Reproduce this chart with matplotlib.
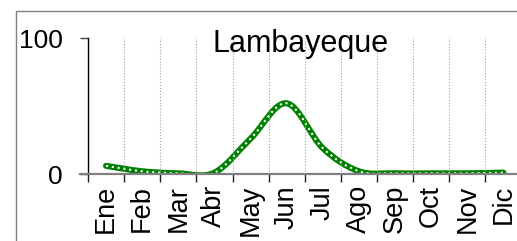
import numpy as np
import matplotlib
matplotlib.use("Agg")
import matplotlib.pyplot as plt
from matplotlib.path import Path
from matplotlib.patches import PathPatch, Rectangle

months = ["Ene", "Feb", "Mar", "Abr", "May", "Jun",
          "Jul", "Ago", "Sep", "Oct", "Nov", "Dic"]
values = [6, 2, 0.5, 1, 26, 52, 19, 2, 0.5, 0.5, 0.5, 1]
title = "Lambayeque"

plt.rcParams["font.family"] = ["Liberation Sans", "DejaVu Sans"]

W, H = 517, 241
fig = plt.figure(figsize=(W / 100, H / 100), dpi=100)

# plot area in pixels (runs past the right edge, like the reference crop)
left, right, top, bottom = 88, 521.5, 38, 174
ax = fig.add_axes([left / W, 1 - bottom / H, (right - left) / W, (bottom - top) / H])

# outer chart border (also cut off on the right and bottom)
fig.patches.append(Rectangle((16 / W, -0.2), 1.2, 1 - 11 / H + 0.2,
                             transform=fig.transFigure, fill=False,
                             edgecolor="#808080", linewidth=1))

x = np.arange(len(months)) + 0.5
y = np.array(values, dtype=float)


def smooth_path(xs, ys):
    # Excel-like smoothed line: Bezier segments with Catmull-Rom control points
    pts = np.column_stack([xs, ys])
    verts = [pts[0]]
    codes = [Path.MOVETO]
    n = len(pts)
    for i in range(n - 1):
        p0 = pts[max(i - 1, 0)]
        p1 = pts[i]
        p2 = pts[i + 1]
        p3 = pts[min(i + 2, n - 1)]
        c1 = p1 + (p2 - p0) / 6
        c2 = p2 - (p3 - p1) / 6
        verts += [c1, c2, p2]
        codes += [Path.CURVE4] * 3
    return Path(verts, codes)


path = smooth_path(x, y)
ax.add_patch(PathPatch(path, facecolor="none", edgecolor="#008000",
                       linewidth=4.4, capstyle="round", joinstyle="round"))
ax.add_patch(PathPatch(path, facecolor="none", edgecolor="white",
                       linewidth=1.5, linestyle=(0, (1, 1.8))))

ax.set_xlim(0, 12)
ax.set_ylim(0, 100)

ax.set_yticks([0, 100])
ax.set_yticklabels(["0", "100"], fontsize=19)
ax.tick_params(axis="y", length=6, width=1, color="#404040", pad=12)

ax.set_xticks(np.arange(0, 13))
ax.set_xticklabels([])
ax.set_xticks(x, minor=True)
ax.set_xticklabels(months, minor=True, rotation=90, fontsize=19.5)
ax.tick_params(axis="x", which="major", length=6, width=1, color="#202020")
ax.tick_params(axis="x", which="minor", length=0, pad=8)

ax.grid(True, axis="x", which="major", color="#a0a0a0", linestyle=":", linewidth=0.8)

for s in ["top", "right"]:
    ax.spines[s].set_visible(False)
ax.spines["left"].set_color("black")
ax.spines["left"].set_linewidth(1)
ax.spines["bottom"].set_color("#808080")
ax.spines["bottom"].set_linewidth(1.6)
ax.spines["bottom"].set_bounds(-0.22, 12)

fig.text(301 / W, 1 - 52 / H, title, ha="center", va="baseline", fontsize=22)

plt.savefig("out.png", dpi=100)
